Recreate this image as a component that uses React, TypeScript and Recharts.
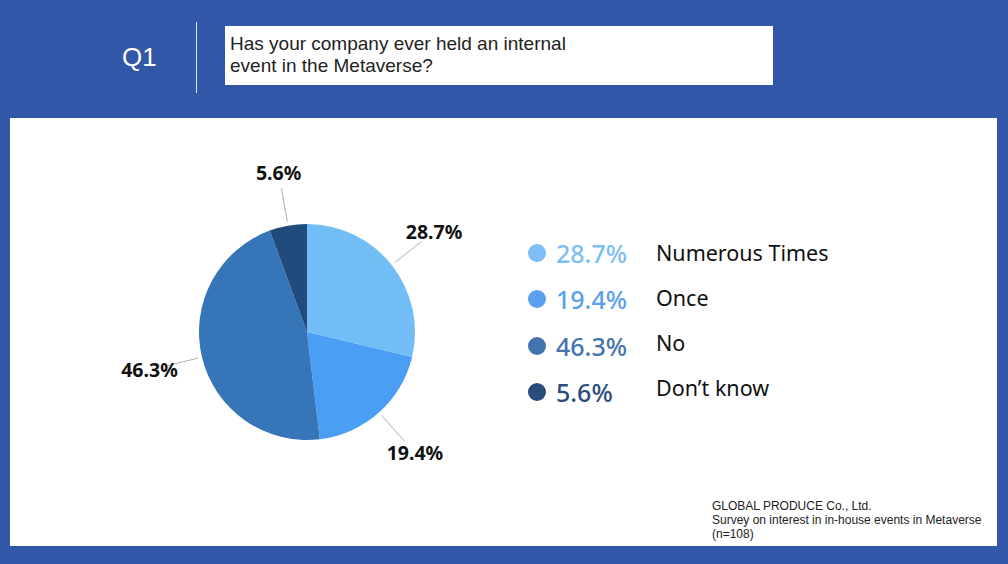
import React from 'react';
import { PieChart, Pie, Cell } from 'recharts';

// Q1 answers (n=108)
const categories = ['Numerous Times', 'Once', 'No', 'Don\u2019t know'];
const shares = [28.7, 19.4, 46.3, 5.6];
const sliceColors = ['#73bdf7', '#4a9ff5', '#3575b8', '#1f4b7d'];
const legendColors = ['#7dbef5', '#5aa0ee', '#4474b0', '#2a4c7c'];

const RAD = Math.PI / 180;
const BG = '#3257a8';

const chartData = categories.map((name, i) => ({ name, value: shares[i] }));

const renderLabel = (props: any) => {
  const { cx, cy, midAngle, outerRadius, value } = props;
  const r = outerRadius + 54;
  const x = cx + r * Math.cos(-midAngle * RAD);
  const y = cy + r * Math.sin(-midAngle * RAD);
  return (
    <text
      x={x}
      y={y}
      textAnchor="middle"
      dominantBaseline="central"
      fill="#111"
      fontFamily="'Noto Sans', sans-serif"
      fontWeight={700}
      fontSize={19.5}
    >
      {`${value.toFixed(1)}%`}
    </text>
  );
};

const renderLine = (props: any) => {
  const { cx, cy, midAngle, outerRadius } = props;
  const c = Math.cos(-midAngle * RAD);
  const s = Math.sin(-midAngle * RAD);
  const r1 = outerRadius + 4;
  const r2 = outerRadius + 38;
  return (
    <line
      x1={cx + r1 * c}
      y1={cy + r1 * s}
      x2={cx + r2 * c}
      y2={cy + r2 * s}
      stroke="#9a9a9a"
      strokeWidth={0.8}
    />
  );
};

export default function App() {
  return (
    <div
      style={{
        position: 'absolute',
        left: 0,
        top: 0,
        width: 1008,
        height: 564,
        background: BG,
        overflow: 'hidden',
        fontFamily: "'Liberation Sans', Arial, sans-serif",
      }}
    >
      {/* header */}
      <div style={{ position: 'absolute', left: 122, top: 42, color: '#fff', fontSize: 26, lineHeight: '30px' }}>Q1</div>
      <div style={{ position: 'absolute', left: 196, top: 22, width: 1, height: 71, background: '#dfe6f3' }} />
      <div
        style={{
          position: 'absolute',
          left: 225,
          top: 26,
          width: 548,
          height: 59,
          background: '#fff',
          color: '#222',
          fontSize: 19,
          lineHeight: '22px',
          padding: '7px 0 0 5px',
          boxSizing: 'border-box',
        }}
      >
        Has your company ever held an internal
        <br />
        event in the Metaverse?
      </div>

      {/* white panel */}
      <div style={{ position: 'absolute', left: 10, top: 118, width: 987, height: 428, background: '#fff' }} />

      <div style={{ position: 'absolute', left: 0, top: 0 }}>
        <PieChart width={1008} height={564} margin={{ top: 0, right: 0, bottom: 0, left: 0 }}>
          <Pie
            data={chartData}
            dataKey="value"
            nameKey="name"
            cx={307}
            cy={332}
            outerRadius={108}
            startAngle={90}
            endAngle={-270}
            stroke="none"
            label={renderLabel}
            labelLine={renderLine}
            isAnimationActive={false}
          >
            {chartData.map((d, i) => (
              <Cell key={`cell-${i}`} fill={sliceColors[i]} />
            ))}
          </Pie>
        </PieChart>
      </div>

      {/* legend */}
      {categories.map((name, i) => {
        const yc = 253 + i * 46.3;
        return (
          <React.Fragment key={name}>
            <div
              style={{
                position: 'absolute',
                left: 528,
                top: yc - 9,
                width: 18,
                height: 18,
                borderRadius: '50%',
                background: legendColors[i],
              }}
            />
            <div
              style={{
                position: 'absolute',
                left: 556,
                top: yc - 17,
                fontFamily: "'Noto Sans', sans-serif",
                fontSize: 25,
                fontWeight: 500,
                lineHeight: '34px',
                color: legendColors[i],
              }}
            >
              {`${shares[i].toFixed(1)}%`}
            </div>
            <div
              style={{
                position: 'absolute',
                left: 656,
                top: yc - 15 - i * 1.3,
                fontFamily: "'Noto Sans', sans-serif",
                fontSize: 21.5,
                lineHeight: '30px',
                color: '#111',
              }}
            >
              {name}
            </div>
          </React.Fragment>
        );
      })}

      {/* source note */}
      <div
        style={{
          position: 'absolute',
          left: 712,
          top: 499,
          fontSize: 12,
          lineHeight: '14px',
          color: '#222',
        }}
      >
        GLOBAL PRODUCE Co., Ltd.
        <br />
        Survey on interest in in-house events in Metaverse
        <br />
        (n=108)
      </div>
    </div>
  );
}
